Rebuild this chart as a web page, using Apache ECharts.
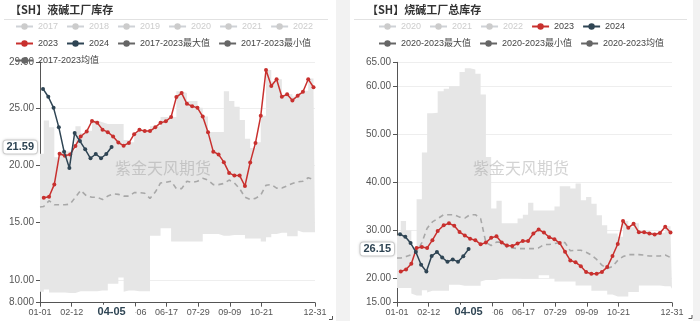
<!DOCTYPE html>
<html><head><meta charset="utf-8">
<script src="https://cdn.jsdelivr.net/npm/echarts@6/dist/echarts.min.js"></script>
<style>
html,body{margin:0;padding:0;background:#f2f2f2;width:700px;height:321px;overflow:hidden}
#c1{position:absolute;left:0;top:0;width:336px;height:321px;background:#fff}
#c2{position:absolute;left:350px;top:0;width:343px;height:321px;background:#fff}
</style></head><body>
<div id="c1"></div><div id="c2"></div>
<script>
// ---- categories (daily MM-DD of a leap year) ----
const monthLengths = [31,29,31,30,31,30,31,31,30,31,30,31];
const days = [];
monthLengths.forEach((n, m) => { for (let d = 1; d <= n; d++) days.push(String(m+1).padStart(2,'0') + '-' + String(d).padStart(2,'0')); });
const xLabelDays = ['01-01','02-12','05-06','06-17','07-29','09-09','10-21','12-31'];
const xTickDays  = ['01-01','02-12','03-25','05-06','06-17','07-29','09-09','10-21','12-31'];

const dates2023 = ['01-06','01-13','01-20','01-27','02-03','02-10','02-17','02-24','03-03','03-10','03-17','03-24','03-31',
  '04-07','04-14','04-21','04-28','05-05','05-12','05-19','05-26','06-02','06-09','06-16','06-23','06-30',
  '07-07','07-14','07-21','07-28','08-04','08-11','08-18','08-25','09-01','09-08','09-15','09-22','09-29',
  '10-06','10-13','10-20','10-27','11-03','11-10','11-17','11-24','12-01','12-08','12-15','12-22','12-29'];
const dates2024 = ['01-05','01-12','01-19','01-26','02-02','02-09','02-16','02-23','03-01','03-08','03-15','03-22','03-29','04-05'];
const bandDates = ['01-01'].concat(dates2023, ['12-31']);

// ---- left: 液碱工厂库存 ----
const lyeYearsHidden = ['2017','2018','2019','2020','2021','2022'];
const lye2023 = [17.15,17.24,18.32,21.0,20.82,20.94,21.68,22.5,22.94,23.85,23.7,23.1,22.88,22.5,21.97,21.7,21.94,22.7,23.09,22.97,
  22.97,23.3,23.7,23.82,24.2,25.94,26.29,25.35,25.15,25.0,24.24,22.88,21.18,20.94,20.26,19.32,19.09,19.09,18.18,20.24,
  21.94,24.3,28.3,26.9,27.5,25.97,26.18,25.65,26.06,26.4,27.5,26.8];
const lye2024 = [26.65,25.97,25.0,23.3,21.18,19.76,22.8,22.1,21.38,20.6,20.97,20.6,20.97,21.59];
const lyeMax = [21.0,23.9,23.3,20.7,21.2,21.2,21.3,23.4,22.8,23.0,23.9,23.75,23.6,23.6,23.6,23.6,22.2,22.0,22.9,23.1,
  23.0,23.4,23.4,24.2,24.2,24.2,26.45,26.3,25.6,25.6,25.0,24.25,22.9,22.9,22.9,26.45,25.6,25.1,23.95,22.3,
  21.5,22.0,24.3,28.3,27.3,27.5,26.15,26.2,26.0,26.3,26.5,27.55,26.8,26.8];
const lyeMin = [8.95,9.15,8.9,8.9,8.9,8.9,8.85,8.85,9.0,9.0,9.0,9.0,9.06,9.65,9.65,10.2,8.95,9.06,9.06,9.0,
  9.0,13.85,13.85,14.5,14.5,13.35,13.35,13.35,13.35,13.35,13.35,14.0,14.0,14.0,14.0,13.85,13.85,13.9,13.9,13.6,
  13.6,13.6,13.35,13.7,14.0,14.0,14.1,13.8,13.8,14.3,14.15,14.15,14.15,14.15];
const lyeMean = [16.35,16.4,16.9,16.55,16.55,16.55,16.6,17.2,17.8,17.3,17.2,17.2,17.0,17.3,17.5,17.45,17.3,17.3,17.6,17.6,
  17.55,17.1,17.65,18.45,18.5,18.6,17.95,17.95,18.6,18.5,18.6,18.85,18.7,18.3,18.3,18.4,18.7,18.45,17.95,17.2,
  17.0,17.1,17.4,18.25,18.3,18.0,18.0,18.2,18.4,18.55,18.6,18.9,18.75,18.75];

// ---- right: 烧碱工厂总库存 ----
const totYearsHidden = ['2020','2021','2022'];
const tot2023 = [21.5,21.9,23.1,26.4,26.6,26.4,28.0,29.9,31.1,31.5,31.0,29.7,29.0,28.3,28.0,27.15,27.5,28.5,28.8,27.5,
  26.9,26.8,27.3,27.85,27.85,29.4,30.2,29.6,28.6,28.2,27.4,25.6,23.8,23.4,22.6,21.4,21.0,21.0,21.4,22.4,
  24.7,27.2,32.0,30.6,31.4,29.65,29.65,29.4,29.2,29.5,30.8,29.6];
const tot2024 = [29.24,28.7,27.4,25.55,22.9,21.5,24.7,25.55,24.4,23.5,24.0,23.5,24.65,26.15];
const totMax = [29,32,30,26.5,36.5,46.25,54.4,54.5,59,59.5,60,60,63,63.75,63.5,62.6,58.3,45.3,34.6,36.2,
  31.5,31.5,31.5,32.5,33.3,35.8,34.2,34.2,34.2,34.2,35.0,39.2,39.2,38.75,39.8,36.3,37.0,35.6,33.2,31.1,
  29.4,29.4,28.7,32.0,30.7,31.5,30.0,29.8,29.6,29.5,29.6,30.9,29.8,29.8];
const totMin = [18.05,18.05,18.05,16.9,16.5,17.6,17.1,17.5,17.5,17.5,18.75,18.75,18.75,18.5,18.5,18.5,19.4,19.7,19.7,19.7,
  20.1,20.1,20.1,20.1,20.0,20.0,20.0,20.7,20.7,20.1,19.4,19.4,19.4,19.4,18.6,18.6,18.6,17.5,17.5,17.5,
  16.7,16.7,16.3,16.3,17.2,17.2,18.6,18.6,18.6,18.6,18.6,18.4,17.9,17.9];
const totMean = [24.3,24.3,24.6,25.0,25.5,27.5,30.5,31.8,32.5,33.3,33.3,33.3,32.8,32.6,33.3,33.3,32.5,27.5,26.9,27.6,
  27.6,26.5,26.4,26.25,26.25,26.25,26.25,26.4,27.1,27.1,27.3,27.5,27.5,25.8,25.9,25.9,25.5,24.9,24.0,22.8,
  22.1,22.5,23.8,24.6,25.0,25.0,25.0,24.9,24.7,24.7,24.7,24.9,24.4,24.4];

const C2023 = '#c8302e', C2024 = '#2f4554', CSTAT = '#666';
const FONT = "'Liberation Sans','Noto Sans CJK SC',sans-serif";

function zip(xs, ys) { return xs.map((x, i) => [x, ys[i]]); }

function build(cfg) {
  const labelIdx = xLabelDays.map(d => days.indexOf(d));
  const tickIdx = xTickDays.map(d => days.indexOf(d));
  const last2024 = cfg.v2024[cfg.v2024.length - 1];
  const lastDate = dates2024[dates2024.length - 1];
  const statItem = n => ({ name: n, itemStyle: { color: CSTAT, opacity: 1 }, lineStyle: { color: CSTAT, width: 2, type: 'solid', opacity: 1 } });
  const selected = {};
  cfg.hidden.forEach(n => selected[n] = false);
  const series = cfg.hidden.map(n => ({ name: n, type: 'line', data: [], color: '#ccc', symbol: 'circle' }));
  series.push({
    name: cfg.minName, type: 'line', stack: 'band', step: 'end', data: zip(bandDates, cfg.min),
    symbol: 'circle', showSymbol: false, color: CSTAT, lineStyle: { width: 0 },
    areaStyle: { color: 'rgba(0,0,0,0)', opacity: 0 }, silent: true, z: 1
  });
  series.push({
    name: cfg.maxName, type: 'line', stack: 'band', step: 'end',
    data: zip(bandDates, cfg.max.map((v, i) => +(v - cfg.min[i]).toFixed(3))),
    symbol: 'circle', showSymbol: false, color: CSTAT, lineStyle: { width: 0 },
    areaStyle: { color: '#e6e6e6', opacity: 1 }, silent: true, z: 1
  });
  series.push({
    name: cfg.meanName, type: 'line', data: zip(bandDates, cfg.mean),
    symbol: 'circle', showSymbol: false, color: CSTAT,
    lineStyle: { type: [5, 4], color: '#a8a8a8', width: 1.6 }, z: 2
  });
  series.push({
    name: '2023', type: 'line', data: zip(dates2023, cfg.v2023), color: C2023,
    symbol: 'circle', symbolSize: 4, showAllSymbol: true, lineStyle: { width: 1.5 }, z: 3
  });
  series.push({
    name: '2024', type: 'line', data: zip(dates2024, cfg.v2024), color: C2024,
    symbol: 'circle', symbolSize: 4, showAllSymbol: true, lineStyle: { width: 1.5 }, z: 4
  });
  const legendData = cfg.legendOrder.map(n => (n === cfg.maxName || n === cfg.minName || n === cfg.meanName) ? statItem(n) : n);
  return {
    animation: false,
    textStyle: { fontFamily: FONT },
    title: {
      text: cfg.title, left: cfg.titleLeft, top: 4, padding: 0,
      textStyle: { fontSize: 11, fontWeight: 'bold', color: '#333', fontFamily: "'Noto Sans CJK SC',sans-serif" }
    },
    legend: {
      data: legendData, selected: selected, left: cfg.legendLeft, top: 22, width: cfg.legendWidth, padding: 0,
      itemWidth: 17, itemHeight: 8, itemGap: 8, inactiveColor: '#ccc',
      textStyle: { fontSize: 9, color: '#444', lineHeight: 8 }
    },
    grid: { left: cfg.gridLeft, right: 21, top: cfg.gridTop, bottom: 18.3, outerBoundsMode: 'none' },
    xAxis: {
      type: 'category', data: days, boundaryGap: false,
      axisLine: { lineStyle: { color: '#555' } },
      axisTick: { interval: (i) => tickIdx.includes(i), length: 4, lineStyle: { color: '#555' } },
      axisLabel: { interval: (i) => labelIdx.includes(i), fontSize: 9, color: '#555', margin: 5 },
      splitLine: { show: false },
      axisPointer: {
        show: true, status: 'show', value: days.indexOf(lastDate), type: 'line', triggerTooltip: false,
        lineStyle: { color: 'rgba(0,0,0,0)', width: 0 },
        label: { show: true, color: C2024, fontWeight: 'bold', fontSize: 11, backgroundColor: '#fff', padding: [2, 10], margin: 2 }
      }
    },
    yAxis: {
      type: 'value', min: cfg.ymin, max: cfg.ymax,
      axisLine: { show: true, lineStyle: { color: '#555' } },
      axisTick: { show: true, length: 4, lineStyle: { color: '#555' } },
      axisLabel: { formatter: v => Number(v).toPrecision(4), fontSize: 10, color: '#555', margin: 6 },
      splitLine: { lineStyle: { color: '#eee' } },
      axisPointer: {
        show: true, status: 'show', value: last2024, type: 'line', triggerTooltip: false,
        lineStyle: { color: 'rgba(0,0,0,0)', width: 0 },
        label: {
          show: true, formatter: p => Number(p.value).toFixed(2), color: C2024, fontWeight: 'bold', fontSize: 11,
          backgroundColor: '#fff', borderColor: '#d6d6d6', borderWidth: 1, borderRadius: 3, padding: [1, 3],
          shadowBlur: 3, shadowColor: 'rgba(0,0,0,0.15)', margin: 3
        }
      }
    },
    graphic: [
      { type: 'line', shape: { x1: 4, y1: 19.5, x2: cfg.sepRight, y2: 19.5 }, style: { stroke: '#e2e2e2', lineWidth: 1 }, silent: true },
      { type: 'text', left: cfg.wmLeft, top: 160, z: 100, silent: true,
        style: { text: '紫金天风期货', fontSize: 16, fill: 'rgba(150,150,150,0.42)', fontFamily: "'Noto Sans CJK SC',sans-serif" } },
      { type: 'polyline', shape: { points: cfg.corner }, style: { stroke: '#555', lineWidth: 1, fill: null }, silent: true }
    ],
    series: series
  };
}

const leftChart = echarts.init(document.getElementById('c1'), null, { renderer: 'canvas' });
leftChart.setOption(build({
  title: '【SH】液碱工厂库存', titleLeft: 10, legendLeft: 15, legendWidth: 300,
  hidden: lyeYearsHidden,
  maxName: '2017-2023最大值', minName: '2017-2023最小值', meanName: '2017-2023均值',
  legendOrder: ['2017','2018','2019','2020','2021','2022','2023','2024','2017-2023最大值','2017-2023最小值','2017-2023均值'],
  v2023: lye2023, v2024: lye2024, max: lyeMax, min: lyeMin, mean: lyeMean,
  ymin: 8, ymax: 29, gridLeft: 40, gridTop: 62, sepRight: 328, wmLeft: 115,
  corner: [[329, 319.5], [332.5, 319.5], [332.5, 316]]
}));

const rightChart = echarts.init(document.getElementById('c2'), null, { renderer: 'canvas' });
rightChart.setOption(build({
  title: '【SH】烧碱工厂总库存', titleLeft: 17, legendLeft: 28, legendWidth: 290,
  hidden: totYearsHidden,
  maxName: '2020-2023最大值', minName: '2020-2023最小值', meanName: '2020-2023均值',
  legendOrder: ['2020','2021','2022','2023','2024','2020-2023最大值','2020-2023最小值','2020-2023均值'],
  v2023: tot2023, v2024: tot2024, max: totMax, min: totMin, mean: totMean,
  ymin: 15, ymax: 65, gridLeft: 47, gridTop: 62.3, sepRight: 337, wmLeft: 123,
  corner: [[338.5, 318.5], [342, 318.5], [342, 315]]
}));
</script>
</body></html>
